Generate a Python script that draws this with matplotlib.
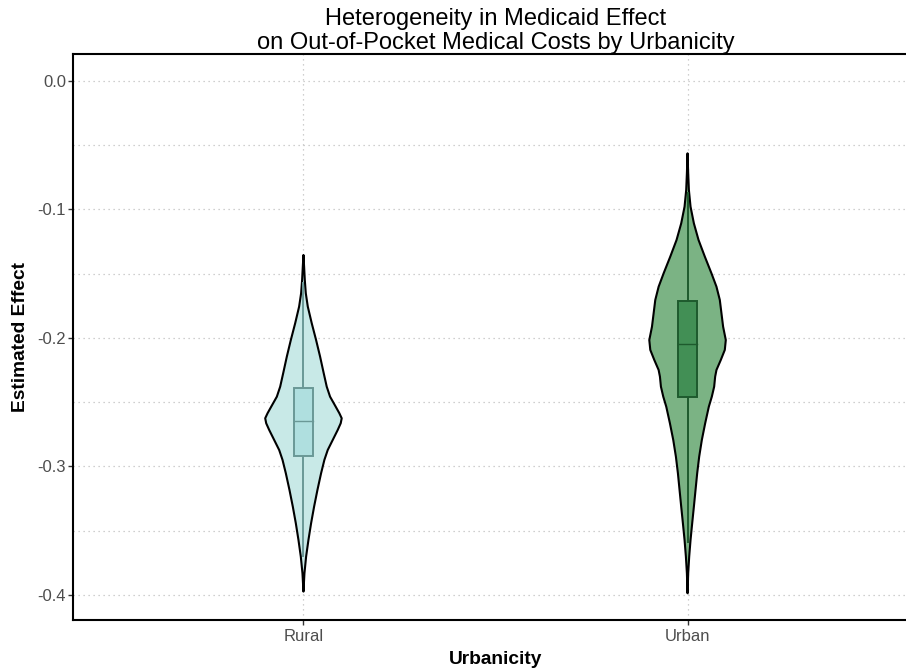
import numpy as np
import matplotlib.pyplot as plt

plt.rcParams['font.family'] = ['Liberation Sans', 'DejaVu Sans']

groups = ['Rural', 'Urban']

# violin outlines: effect value and density half-width (x units)
rural_y = [-0.1354, -0.1445, -0.1549, -0.1652, -0.1756, -0.1886, -0.2016, -0.2145,
           -0.2275, -0.2379, -0.2457, -0.2535, -0.2586, -0.2625, -0.2664, -0.2716,
           -0.2794, -0.2872, -0.2949, -0.3053, -0.3183, -0.3313, -0.3442, -0.3572,
           -0.3702, -0.3831, -0.3974]
rural_w = [0.0, 0.0017, 0.0035, 0.0061, 0.0113, 0.0216, 0.0329, 0.0433,
           0.0528, 0.0606, 0.0693, 0.0840, 0.0935, 0.0996, 0.0970, 0.0892,
           0.0762, 0.0632, 0.0545, 0.0459, 0.0364, 0.0277, 0.0199, 0.0130,
           0.0069, 0.0026, 0.0]

urban_y = [-0.0563, -0.0719, -0.0848, -0.0978, -0.1108, -0.1237, -0.1367, -0.1497,
           -0.1601, -0.1704, -0.1808, -0.1912, -0.2016, -0.2093, -0.2171, -0.2249,
           -0.2301, -0.2379, -0.2457, -0.2535, -0.2664, -0.2794, -0.2924, -0.3053,
           -0.3183, -0.3313, -0.3442, -0.3572, -0.3702, -0.3831, -0.3987]
urban_w = [0.0, 0.0017, 0.0035, 0.0078, 0.0165, 0.0286, 0.0450, 0.0623,
           0.0753, 0.0840, 0.0883, 0.0926, 0.0996, 0.0970, 0.0866, 0.0753,
           0.0719, 0.0693, 0.0632, 0.0554, 0.0459, 0.0372, 0.0303, 0.0251,
           0.0208, 0.0165, 0.0121, 0.0078, 0.0043, 0.0017, 0.0]

# box stats: lower whisker, q1, median, q3, upper whisker
rural_box = [-0.370, -0.2918, -0.2643, -0.2387, -0.1575]
urban_box = [-0.3585, -0.2459, -0.2047, -0.1712, -0.087]

violin_fill = ['#c8e9e7', '#7bb384']
box_fill = ['#afdfdf', '#428f55']
box_edge = ['#6a9896', '#1e5a2d']

fig = plt.figure(figsize=(9.06, 6.71), dpi=100)
ax = fig.add_axes([73 / 906, 1 - 620 / 671, (918 - 73) / 906, (620 - 54) / 671])

shapes = [(rural_y, rural_w, rural_box), (urban_y, urban_w, urban_box)]
for i, (vy, vw, st) in enumerate(shapes):
    xc = i + 1
    vy = np.array(vy)
    vw = np.array(vw)
    px = np.concatenate([xc - vw, (xc + vw)[::-1]])
    py = np.concatenate([vy, vy[::-1]])
    ax.fill(px, py, facecolor=violin_fill[i], edgecolor='black', linewidth=1.5,
            joinstyle='round', zorder=3)

    lo, q1, med, q3, hi = st
    bw = 0.025
    ax.plot([xc, xc], [lo, q1], color=box_edge[i], lw=1.4, zorder=4)
    ax.plot([xc, xc], [q3, hi], color=box_edge[i], lw=1.4, zorder=4)
    ax.add_patch(plt.Rectangle((xc - bw, q1), 2 * bw, q3 - q1, facecolor=box_fill[i],
                               edgecolor=box_edge[i], lw=1.4, zorder=4))
    ax.plot([xc - bw, xc + bw], [med, med], color=box_edge[i], lw=1.0, zorder=5)

ax.set_xlim(0.4, 2.6)
ax.set_ylim(-0.4195, 0.021)
ax.set_xticks([1, 2])
ax.set_xticklabels(groups)
ax.set_yticks([0.0, -0.1, -0.2, -0.3, -0.4])
ax.set_yticklabels(['0.0', '-0.1', '-0.2', '-0.3', '-0.4'])
ax.set_yticks([-0.05, -0.15, -0.25, -0.35], minor=True)
ax.tick_params(axis='y', which='minor', length=0)
ax.tick_params(axis='both', which='major', labelsize=12, labelcolor='#4d4d4d',
               color='#333333', length=3.6, width=1, pad=1.5)
ax.tick_params(axis='x', which='major', pad=2.8)

ax.grid(True, which='both', axis='y', color='#c0c0c0', linestyle=(0, (1, 3)), lw=0.9)
ax.grid(True, which='major', axis='x', color='#c0c0c0', linestyle=(0, (1, 3)), lw=0.9)
ax.set_axisbelow(True)

for side in ['left', 'top', 'bottom', 'right']:
    ax.spines[side].set_linewidth(1.5)
    ax.spines[side].set_color('black')

ax.set_xlabel('Urbanicity', fontsize=13.8, fontweight='bold', labelpad=5)
ax.set_ylabel('Estimated Effect', fontsize=13.8, fontweight='bold', labelpad=6)

ax.set_title('Heterogeneity in Medicaid Effect\non Out-of-Pocket Medical Costs by Urbanicity',
             fontsize=17, linespacing=1.12, pad=3)

fig.savefig('out.png', dpi=100)
